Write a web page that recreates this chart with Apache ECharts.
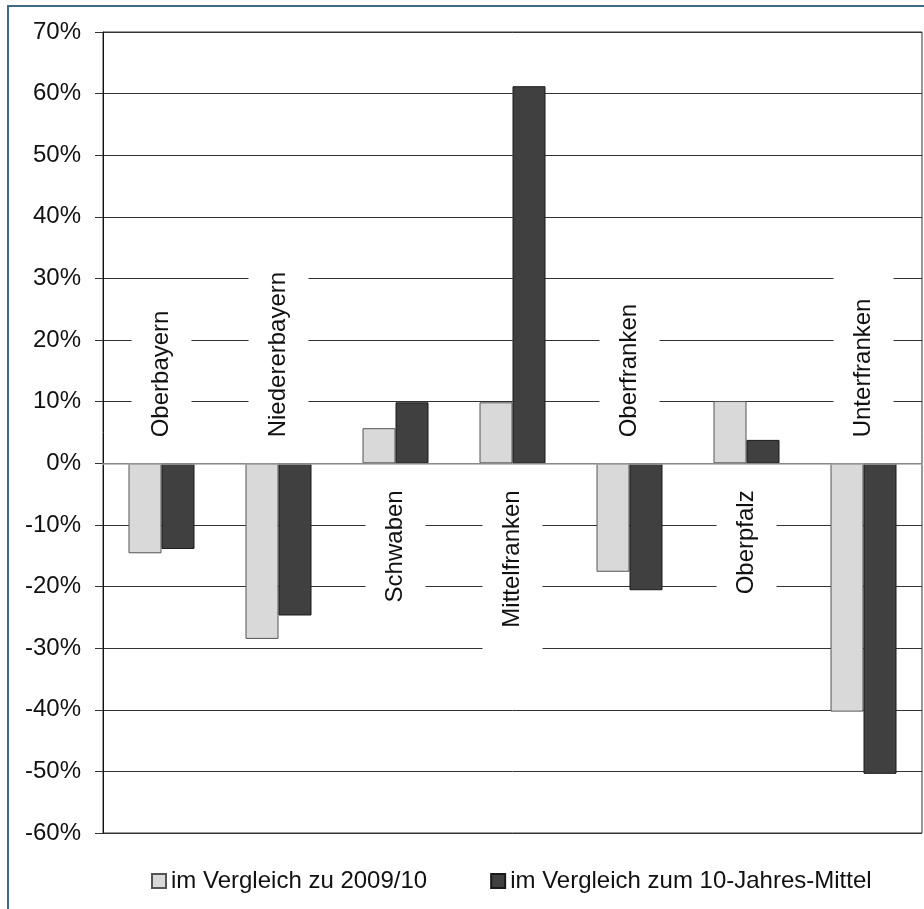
<!DOCTYPE html>
<html>
<head>
<meta charset="utf-8">
<script src="https://cdn.jsdelivr.net/npm/echarts@6/dist/echarts.min.js"></script>
<style>
  html, body { margin: 0; padding: 0; background: #fff; }
  #chart { width: 924px; height: 909px; }
</style>
</head>
<body>
<div id="chart"></div>
<script>
// Regierungsbezirke
const categories = ['Oberbayern', 'Niedererbayern', 'Schwaben', 'Mittelfranken', 'Oberfranken', 'Oberpfalz', 'Unterfranken'];
// Veränderung in %
const vsPrevYear = [-14.6, -28.5, 5.7, 9.9, -17.6, 10.1, -40.3];
const vsTenYearMean = [-13.9, -24.7, 9.9, 61.2, -20.6, 3.8, -50.4];
const seriesNames = ['im Vergleich zu 2009/10', 'im Vergleich zum 10-Jahres-Mittel'];
const yTicks = { min: -60, max: 70, step: 10 };

const FONT = '"Liberation Sans", Arial, sans-serif';

// Region names sit on the opposite side of the zero line from their bars
const labelUp = categories.map((_, i) => Math.max(vsPrevYear[i], vsTenYearMean[i]) <= 0);

const chart = echarts.init(document.getElementById('chart'), null, { renderer: 'canvas' });

chart.setOption({
  animation: false,
  backgroundColor: '#ffffff',
  textStyle: { fontFamily: FONT },
  grid: {
    left: 103, right: 2, top: 32, bottom: 76,
    show: true, borderColor: '#333333', borderWidth: 1, backgroundColor: 'transparent'
  },
  graphic: [{
    type: 'rect',
    shape: { x: 8, y: 6, width: 1000, height: 1000 },
    style: { fill: 'none', stroke: '#3f6b87', lineWidth: 2 },
    silent: true, z: 10
  }],
  legend: {
    data: seriesNames,
    left: 151, top: 869,
    padding: 0,
    itemWidth: 14, itemHeight: 14, itemGap: 63,
    icon: 'rect',
    textStyle: { fontSize: 24, color: '#111', fontFamily: FONT, lineHeight: 24 }
  },
  xAxis: {
    type: 'category',
    data: categories,
    z: 3,
    axisLine: { onZero: true, lineStyle: { color: '#a8a8a8', width: 1.5 } },
    axisTick: { show: false },
    axisLabel: { show: false },
    splitLine: { show: false }
  },
  yAxis: {
    type: 'value',
    min: yTicks.min, max: yTicks.max, interval: yTicks.step,
    axisLine: { show: true, onZero: false, lineStyle: { color: '#111', width: 1 } },
    axisTick: { show: true, length: 8, inside: false, lineStyle: { color: '#333' } },
    axisLabel: { formatter: '{value}%', fontSize: 24, color: '#111', margin: 22, fontFamily: FONT },
    splitLine: { show: true, lineStyle: { color: '#333333', width: 1 } }
  },
  series: [
    {
      name: seriesNames[0],
      type: 'bar',
      data: vsPrevYear,
      barWidth: 33,
      barGap: '0%',
      itemStyle: { color: '#d9d9d9', borderColor: '#555555', borderWidth: 1 }
    },
    {
      name: seriesNames[1],
      type: 'bar',
      data: vsTenYearMean,
      barWidth: 33,
      barGap: '0%',
      itemStyle: { color: '#404040', borderColor: '#1a1a1a', borderWidth: 1 }
    },
    {
      name: 'regions',
      type: 'custom',
      clip: false,
      z: 2,
      data: categories.map((c, i) => [i, 0]),
      encode: { x: 0, y: 1 },
      renderItem: function (params, api) {
        const i = params.dataIndex;
        const p = api.coord([api.value(0), 0]);
        const up = labelUp[i];
        return {
          type: 'text',
          x: p[0],
          y: p[1] + (up ? -4 : 5),
          rotation: Math.PI / 2,
          style: {
            text: categories[i],
            fontSize: 24,
            fontFamily: FONT,
            fill: '#111',
            align: up ? 'left' : 'right',
            verticalAlign: 'middle',
            lineHeight: 24,
            backgroundColor: '#ffffff',
            padding: [18, 22]
          }
        };
      }
    }
  ]
});
</script>
</body>
</html>
